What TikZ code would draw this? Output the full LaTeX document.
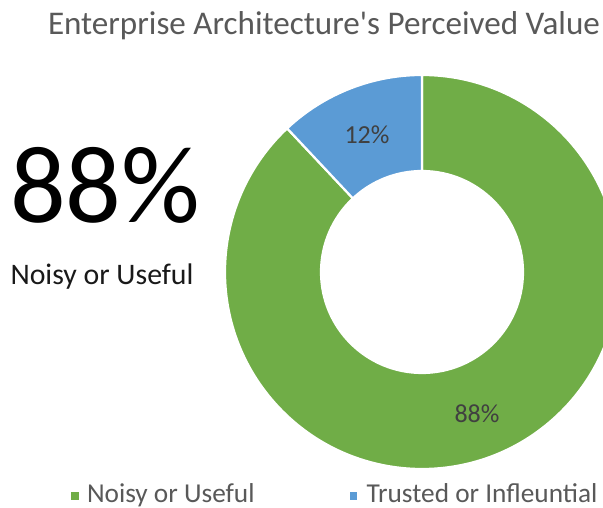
\documentclass[tikz,border=0pt]{standalone}
\usepackage{fontspec}
\setmainfont{Carlito}
\newfontfamily\titlefont{Carlito}[Ligatures=TeXOff]
\definecolor{egreen}{HTML}{70AD47}
\definecolor{eblue}{HTML}{5B9BD5}
\definecolor{titlegray}{HTML}{595959}
\definecolor{labelgray}{HTML}{404040}
\begin{document}
\begin{tikzpicture}[x=1pt,y=1pt,
  slice/.style={draw=white,line width=2.2pt,line join=miter},
  txt/.style={inner sep=0pt,outer sep=0pt,anchor=base west},
  lab/.style={inner sep=0pt,text=labelgray,font=\fontsize{26}{30}\selectfont}]
\useasboundingbox (0,0) rectangle (603,508);
\clip (0,0) rectangle (603,508);
\fill[white] (0,0) rectangle (603,508);
\coordinate (c) at (422,236);
% slices
\path[slice,fill=egreen] ([shift={(133.2:197pt)}]c) arc[start angle=133.2,end angle=450,radius=197pt]
   -- ([shift={(90:101pt)}]c) arc[start angle=90,end angle=-226.8,radius=101pt] -- cycle;
\path[slice,fill=eblue] ([shift={(90:197pt)}]c) arc[start angle=90,end angle=133.2,radius=197pt]
   -- ([shift={(133.2:101pt)}]c) arc[start angle=133.2,end angle=90,radius=101pt] -- cycle;
% slice labels
\node[lab] (l12) at (367,373) {12\%};
\node[lab] (l88) at (477,94) {88\%};
% title
\node[txt,text=titlegray,font=\titlefont\fontsize{33.1}{38}\selectfont] (title) at (48,473) {Enterprise Architecture's Perceived Value};
% big number
\node[txt,font=\fontsize{110}{120}\selectfont] (big) at (10,285) {88\%};
\node[txt,text=black!90,font=\fontsize{29.8}{34}\selectfont] (sub) at (10.5,223) {Noisy or Useful};
% legend
\node[fill=egreen,inner sep=0pt,minimum size=7.5pt] (sq1) at (75,12) {};
\node[txt,text=titlegray,font=\fontsize{27.3}{30}\selectfont] (leg1) at (87,5.5) {Noisy or Useful};
\node[fill=eblue,inner sep=0pt,minimum size=7.5pt] (sq2) at (353.5,12) {};
\node[txt,text=titlegray,font=\fontsize{27.3}{30}\selectfont] (leg2) at (366.5,5.5) {Trusted or Infleuntial};
\end{tikzpicture}
\end{document}
